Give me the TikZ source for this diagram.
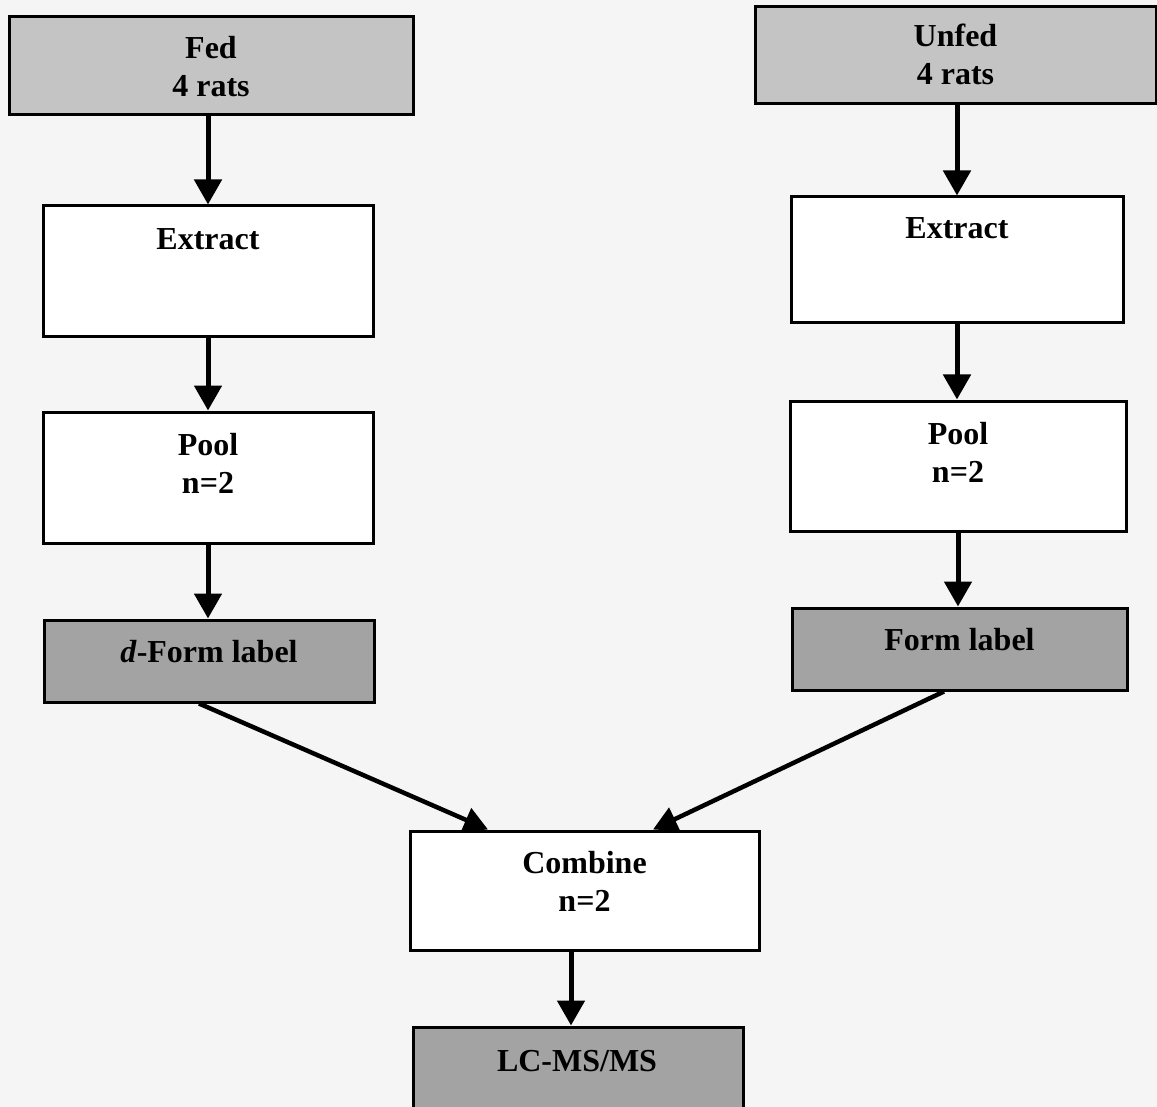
\documentclass[tikz,border=0pt]{standalone}
\usepackage{fontspec}
\setmainfont{Liberation Serif}
\usetikzlibrary{arrows.meta}
\definecolor{bgcol}{HTML}{F5F5F5}
\definecolor{lightbox}{HTML}{C4C4C4}
\definecolor{darkbox}{HTML}{A3A3A3}
\begin{document}
\begin{tikzpicture}[x=1pt,y=-1pt,
  boxshape/.style={draw=black, line width=3pt, inner sep=0pt, fill=white},
  litebox/.style={boxshape, fill=lightbox},
  darkgbox/.style={boxshape, fill=darkbox},
  txt/.style={align=center, inner sep=0pt, font=\fontsize{32}{38}\selectfont\bfseries},
  flow/.style={line width=5pt, -{Triangle[width=27pt,length=25pt]}},
  diag/.style={line width=4.5pt, -{Triangle[width=25pt,length=24pt]}}
]
\fill[bgcol] (0,0) rectangle (1157,1107);
\useasboundingbox (0,0) rectangle (1157,1107);

% boxes
\node[litebox, minimum width=404pt, minimum height=98pt] (fed) at (211,66) {};
\node[litebox, minimum width=401pt, minimum height=97pt] (unfed) at (955.5,55.5) {};
\node[boxshape, minimum width=330pt, minimum height=131pt] (ext1) at (208,271.5) {};
\node[boxshape, minimum width=332pt, minimum height=126pt] (ext2) at (957,260) {};
\node[boxshape, minimum width=330pt, minimum height=131pt] (pool1) at (208,477.5) {};
\node[boxshape, minimum width=336pt, minimum height=130pt] (pool2) at (958,466) {};
\node[darkgbox, minimum width=330pt, minimum height=82pt] (dform) at (209,661) {};
\node[darkgbox, minimum width=335pt, minimum height=82pt] (form) at (959.5,649) {};
\node[boxshape, minimum width=349pt, minimum height=119pt] (comb) at (584.5,890.5) {};
\node[darkgbox, minimum width=330pt, minimum height=93pt] (lc) at (578,1073.5) {};

% texts
\node[txt] (fedt) at (211,67) {Fed\\4 rats};
\node[txt] (unfedt) at (955.5,54.5) {Unfed\\4 rats};
\node[txt] (ext1t) at (208,239) {Extract};
\node[txt] (ext2t) at (957,228) {Extract};
\node[txt] (pool1t) at (208,463) {Pool\\n=2};
\node[txt] (pool2t) at (958,452) {Pool\\n=2};
\node[txt] (dformt) at (209,652) {\textit{d}-Form label};
\node[txt] (formt) at (959.5,640) {Form label};
\node[txt] (combt) at (584.5,881.5) {Combine\\n=2};
\node[txt] (lct) at (577,1061) {LC-MS/MS};

% connectors
\draw[flow] (fed.south -| ext1.north) -- (ext1.north);
\draw[flow] (ext1.south) -- (pool1.north);
\draw[flow] (pool1.south) -- (pool1.south |- dform.north);
\draw[flow] (unfed.south -| ext2.north) -- (ext2.north);
\draw[flow] (ext2.south) -- (ext2.south |- pool2.north);
\draw[flow] (pool2.south) -- (pool2.south |- form.north);
\draw[diag] ([xshift=-10pt]dform.south) -- ([xshift=-96.5pt]comb.north);
\draw[diag] ([xshift=-15.5pt]form.south) -- ([xshift=68.5pt]comb.north);
\draw[flow] ([xshift=-13.5pt]comb.south) -- ([xshift=-13.5pt]comb.south |- lc.north);
\end{tikzpicture}
\end{document}
